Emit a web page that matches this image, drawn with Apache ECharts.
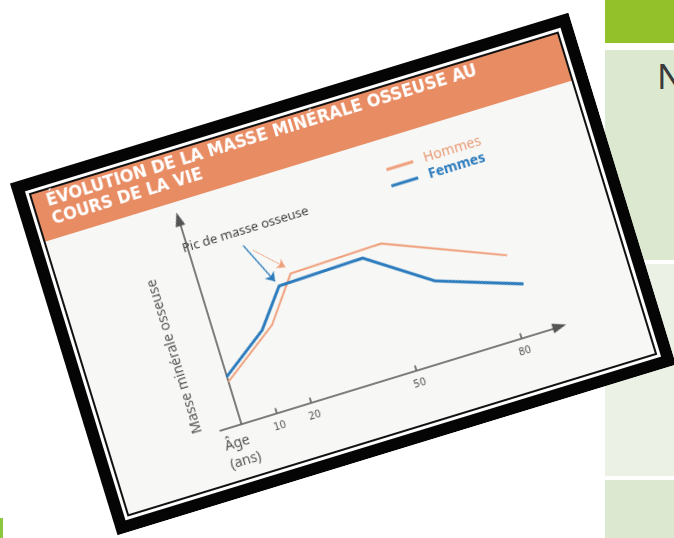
<!DOCTYPE html>
<html>
<head>
<meta charset="utf-8">
<script src="https://cdn.jsdelivr.net/npm/echarts@6/dist/echarts.min.js"></script>
<style>
  html, body { margin: 0; padding: 0; background: #ffffff; }
  body { width: 674px; height: 538px; overflow: hidden; position: relative; font-family: "Noto Sans", sans-serif; }
  .tbl { position: absolute; left: 605px; width: 69px; }
  #hdr { top: 0; height: 43px; background: #92c12a; }
  #c1 { top: 50px; height: 210px; background: #dce9d0; }
  #c2 { top: 264px; height: 212px; background: #ebf1e4; }
  #c3 { top: 480px; height: 58px; background: #dce9d0; }
  #letter { position: absolute; left: 657px; top: 59px; font: 35px/34px "Noto Sans", sans-serif; color: #3a3a3a; }
  #sliver { position: absolute; left: 0; top: 518px; width: 3px; height: 20px; background: #8dc63f; }
  #card {
    position: absolute; left: 51px; top: 90px; width: 584px; height: 368px;
    transform: rotate(-17deg); transform-origin: 50% 50%;
  }
</style>
</head>
<body>
<div class="tbl" id="hdr"></div>
<div class="tbl" id="c1"></div>
<div class="tbl" id="c2"></div>
<div class="tbl" id="c3"></div>
<div id="letter">N</div>
<div id="sliver"></div>
<div id="card"></div>
<script>
// Age (years) vs. bone mineral mass (relative units)
const hommesAges   = [0, 16, 25, 51, 83];
const hommesValues = [20.5, 40, 60.5, 61.5, 39];
const femmesAges   = [0, 13, 21, 45, 62, 85];
const femmesValues = [23, 39, 56.5, 57.5, 37.5, 24];
const ageTicks = [10, 20, 50, 80];

// "Pic de masse osseuse" pointers: [age, value] start -> end
const femmesPicFrom = [14.8, 79.5];
const femmesPicTo   = [20.3, 59];
const hommesPicFrom = [17, 76];
const hommesPicTo   = [24.1, 64];

const titleLine1 = 'ÉVOLUTION DE LA MASSE MINÉRALE OSSEUSE AU';
const titleLine2 = 'COURS DE LA VIE';
const picLabel = 'Pic de masse osseuse';

const ORANGE = '#ef9f7b';
const BLUE = '#2b7bbd';
const AXIS = '#555555';
const TITLE_FONT = 'bold 18px "DejaVu Sans Condensed"';

const pairs = (xs, ys) => xs.map((x, i) => [x, ys[i]]);

const chart = echarts.init(document.getElementById('card'), null, { renderer: 'canvas' });
chart.setOption({
  animation: false,
  graphic: [
    { type: 'rect', z: -20, shape: { x: 0, y: 0, width: 584, height: 368 }, style: { fill: '#050505' } },
    { type: 'rect', z: -19, shape: { x: 12, y: 12, width: 560, height: 344 }, style: { fill: '#ffffff' } },
    { type: 'rect', z: -18, shape: { x: 15, y: 15, width: 554, height: 338 }, style: { fill: '#111111' } },
    { type: 'rect', z: -17, shape: { x: 17, y: 17, width: 550, height: 334 }, style: { fill: '#f7f7f5' } },
    { type: 'rect', z: -16, shape: { x: 17, y: 17, width: 550, height: 49 }, style: { fill: '#e88c64' } },
    { type: 'text', z: 10, x: 30, y: 28, style: { text: titleLine1, fill: '#ffffff', font: TITLE_FONT, verticalAlign: 'middle' } },
    { type: 'text', z: 10, x: 30, y: 47, style: { text: titleLine2, fill: '#ffffff', font: TITLE_FONT, verticalAlign: 'middle' } },
    { type: 'text', z: 10, x: 146, y: 113, style: { text: picLabel, fill: '#444444', font: '13px "Noto Sans"', verticalAlign: 'middle' } }
  ],
  legend: {
    orient: 'vertical',
    left: 359, top: 85,
    itemWidth: 28, itemHeight: 3, itemGap: 3,
    textStyle: { fontSize: 14, fontFamily: 'Noto Sans', padding: [0, 0, 0, 6] },
    data: [
      { name: 'Hommes', icon: 'rect', textStyle: { color: '#e99a76' } },
      { name: 'Femmes', icon: 'rect', textStyle: { color: BLUE, fontWeight: 'bold' } }
    ]
  },
  grid: { left: 128.7, top: 83.6, width: 355, height: 214, containLabel: false },
  xAxis: {
    type: 'value', min: -6, max: 91,
    axisLine: { show: true, symbol: ['none', 'triangle'], symbolSize: [10, 14], lineStyle: { color: AXIS, width: 1.5 } },
    axisTick: { show: true, inside: true, length: 5, customValues: ageTicks, lineStyle: { color: AXIS, width: 1.5 } },
    axisLabel: { customValues: ageTicks, fontSize: 11, color: '#555555', margin: 8, fontFamily: 'DejaVu Sans Condensed' },
    splitLine: { show: false },
    name: 'Âge\n(ans)', nameLocation: 'start', nameGap: 0,
    nameTextStyle: { align: 'left', verticalAlign: 'top', padding: [8, 0, 0, 0], fontSize: 14, lineHeight: 19, color: '#555555', fontFamily: 'Noto Sans' }
  },
  yAxis: {
    type: 'value', min: 0, max: 100,
    axisLine: { show: true, symbol: ['none', 'triangle'], symbolSize: [10, 14], lineStyle: { color: AXIS, width: 1.5 } },
    axisTick: { show: false }, axisLabel: { show: false }, splitLine: { show: false },
    name: 'Masse minérale osseuse', nameLocation: 'middle', nameRotate: 90, nameGap: 15,
    nameTextStyle: { fontSize: 14, color: '#555555', fontFamily: 'Noto Sans', padding: [0, 46, 0, 0] }
  },
  series: [
    {
      name: 'Hommes', type: 'line', symbol: 'none',
      data: pairs(hommesAges, hommesValues),
      itemStyle: { color: ORANGE }, lineStyle: { color: ORANGE, width: 2 },
      markLine: {
        silent: true, symbol: ['none', 'arrow'], symbolSize: 8, label: { show: false },
        lineStyle: { color: ORANGE, width: 1, type: 'solid' },
        data: [[{ coord: hommesPicFrom }, { coord: hommesPicTo }]]
      }
    },
    {
      name: 'Femmes', type: 'line', symbol: 'none',
      data: pairs(femmesAges, femmesValues),
      itemStyle: { color: BLUE }, lineStyle: { color: BLUE, width: 3 },
      markLine: {
        silent: true, symbol: ['none', 'arrow'], symbolSize: 9, label: { show: false },
        lineStyle: { color: BLUE, width: 1.3, type: 'solid' },
        data: [[{ coord: femmesPicFrom }, { coord: femmesPicTo }]]
      }
    }
  ]
});
</script>
</body>
</html>
